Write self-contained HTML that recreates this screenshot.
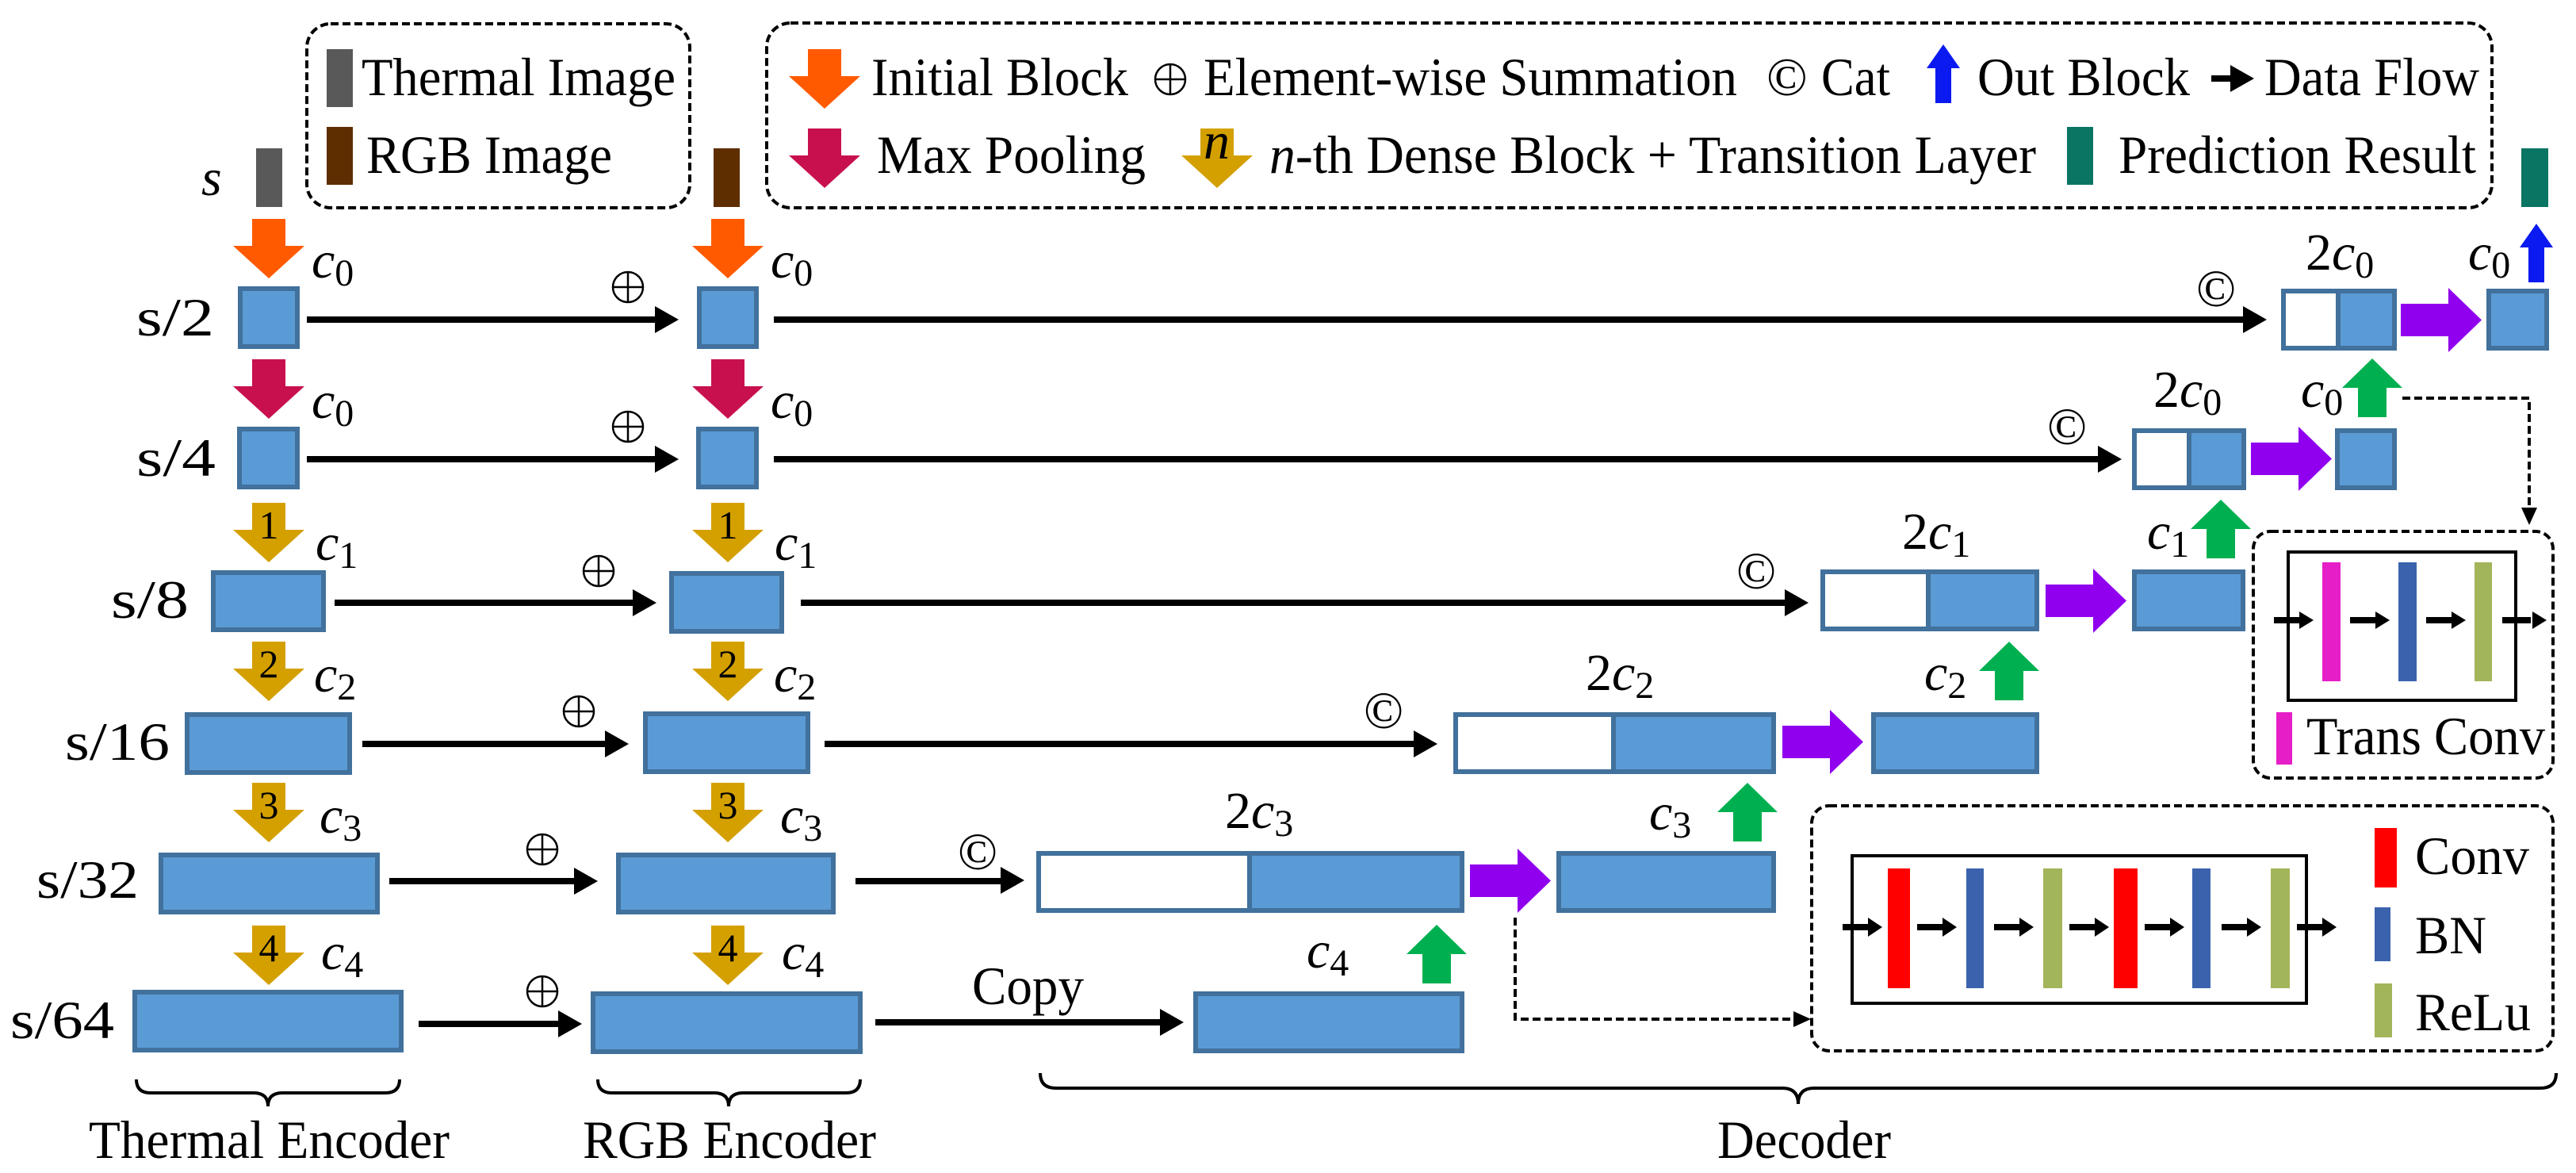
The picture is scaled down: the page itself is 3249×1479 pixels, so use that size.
<!DOCTYPE html>
<html><head><meta charset="utf-8"><style>
html,body{margin:0;padding:0;background:#fff}
svg{display:block}
text{font-family:"Liberation Serif",serif;fill:#000}
.t{font-size:68px}
.m{font-size:66px;font-style:italic}
.sb{font-style:normal;font-size:48px}
.s{font-size:68px}
.bx{fill:#5b9bd5;stroke:#41719c;stroke-width:6}
.wb{fill:#fff;stroke:#41719c;stroke-width:6}
.ln{stroke:#000;stroke-width:8;fill:none}
.dsh{stroke:#000;stroke-width:4;fill:none;stroke-dasharray:10 5}
</style></head><body>
<svg width="3249" height="1479" viewBox="0 0 3249 1479" xmlns="http://www.w3.org/2000/svg">
<defs>
<path id="da" d="M-21,0 H21 V34 H45 L0,75 L-45,34 H-21Z"/>
<path id="ua" d="M-18,74 H18 V37 H38 L0,0 L-38,37 H-18Z"/>
<path id="ba" d="M-10,74 H10 V30 H21 L0,0 L-21,30 H-10Z"/>
<path id="pa" d="M0,20 H60 V0 L102,40.5 L60,81 V61 H0Z"/>
<path id="ah" d="M0,0 L-30,-17 L-30,17Z"/>
<g id="op"><circle cx="0" cy="0" r="19" fill="none" stroke="#000" stroke-width="2.5"/><path d="M-19,0H19M0,-19V19" stroke="#000" stroke-width="2.5"/></g>
</defs>

<rect x="387" y="30" width="483" height="232" rx="30" class="dsh"/>
<rect x="412" y="62" width="33" height="73" fill="#595959"/>
<text class="t" x="456" y="120" textLength="396" lengthAdjust="spacingAndGlyphs">Thermal Image</text>
<rect x="412" y="160" width="33" height="73" fill="#5e2e00"/>
<text class="t" x="462" y="218" textLength="310" lengthAdjust="spacingAndGlyphs">RGB Image</text>

<rect x="967" y="29" width="2176" height="233" rx="30" class="dsh"/>
<use href="#da" x="1040" y="62" fill="#ff5a00"/>
<text class="t" x="1099" y="120" textLength="324" lengthAdjust="spacingAndGlyphs">Initial Block</text>
<use href="#op" x="1476" y="100"/>
<text class="t" x="1518" y="120" textLength="673" lengthAdjust="spacingAndGlyphs">Element-wise Summation</text>
<text class="t" x="2228" y="120">©</text>
<text class="t" x="2297" y="120" textLength="87" lengthAdjust="spacingAndGlyphs">Cat</text>
<use href="#ba" x="2451" y="56" fill="#0a1af0"/>
<text class="t" x="2494" y="120" textLength="268" lengthAdjust="spacingAndGlyphs">Out Block</text>
<line x1="2789" y1="99" x2="2820" y2="99" class="ln"/><use href="#ah" x="2843" y="99"/>
<text class="t" x="2856" y="120" textLength="271" lengthAdjust="spacingAndGlyphs">Data Flow</text>

<use href="#da" x="1040" y="162" fill="#c8104f"/>
<text class="t" x="1106" y="218" textLength="339" lengthAdjust="spacingAndGlyphs">Max Pooling</text>
<use href="#da" x="1535" y="162" fill="#d4a000"/>
<text class="m" x="1518" y="200">n</text>
<text class="t" x="1601" y="218" textLength="967" lengthAdjust="spacingAndGlyphs"><tspan font-style="italic">n</tspan>-th Dense Block + Transition Layer</text>
<rect x="2607" y="160" width="33" height="73" fill="#0b7563"/>
<text class="t" x="2672" y="218" textLength="451" lengthAdjust="spacingAndGlyphs">Prediction Result</text>

<text class="m" x="254" y="246" font-size="72">s</text>
<rect x="323" y="187" width="33" height="74" fill="#595959"/>
<rect x="900" y="187" width="33" height="74" fill="#5e2e00"/>
<rect x="3180" y="187" width="34" height="74" fill="#0b7563"/>

<text class="s" x="172" y="423" textLength="98" lengthAdjust="spacingAndGlyphs">s/2</text>
<text class="s" x="172" y="600" textLength="100" lengthAdjust="spacingAndGlyphs">s/4</text>
<text class="s" x="140" y="779" textLength="98" lengthAdjust="spacingAndGlyphs">s/8</text>
<text class="s" x="82" y="958" textLength="132" lengthAdjust="spacingAndGlyphs">s/16</text>
<text class="s" x="46" y="1132" textLength="129" lengthAdjust="spacingAndGlyphs">s/32</text>
<text class="s" x="13" y="1309" textLength="131" lengthAdjust="spacingAndGlyphs">s/64</text>

<g>
<use href="#da" x="339" y="276" fill="#ff5a00"/><use href="#da" x="918" y="276" fill="#ff5a00"/>
<use href="#da" x="339" y="453" fill="#c8104f"/><use href="#da" x="918" y="453" fill="#c8104f"/>
<use href="#da" x="339" y="634" fill="#d4a000"/><use href="#da" x="918" y="634" fill="#d4a000"/>
<use href="#da" x="339" y="809" fill="#d4a000"/><use href="#da" x="918" y="809" fill="#d4a000"/>
<use href="#da" x="339" y="987" fill="#d4a000"/><use href="#da" x="918" y="987" fill="#d4a000"/>
<use href="#da" x="339" y="1167" fill="#d4a000"/><use href="#da" x="918" y="1167" fill="#d4a000"/>
</g>
<g text-anchor="middle">
<text x="339" y="679" font-size="50">1</text><text x="918" y="679" font-size="50">1</text>
<text x="339" y="854" font-size="50">2</text><text x="918" y="854" font-size="50">2</text>
<text x="339" y="1032" font-size="50">3</text><text x="918" y="1032" font-size="50">3</text>
<text x="339" y="1212" font-size="50">4</text><text x="918" y="1212" font-size="50">4</text>
</g>
<text class="m" x="393" y="350">c<tspan class="sb" dy="10">0</tspan></text>
<text class="m" x="972" y="350">c<tspan class="sb" dy="10">0</tspan></text>
<text class="m" x="393" y="527">c<tspan class="sb" dy="10">0</tspan></text>
<text class="m" x="972" y="527">c<tspan class="sb" dy="10">0</tspan></text>
<text class="m" x="398" y="706">c<tspan class="sb" dy="10">1</tspan></text>
<text class="m" x="977" y="706">c<tspan class="sb" dy="10">1</tspan></text>
<text class="m" x="396" y="872">c<tspan class="sb" dy="10">2</tspan></text>
<text class="m" x="976" y="872">c<tspan class="sb" dy="10">2</tspan></text>
<text class="m" x="403" y="1050">c<tspan class="sb" dy="10">3</tspan></text>
<text class="m" x="984" y="1050">c<tspan class="sb" dy="10">3</tspan></text>
<text class="m" x="405" y="1222">c<tspan class="sb" dy="10">4</tspan></text>
<text class="m" x="986" y="1222">c<tspan class="sb" dy="10">4</tspan></text>

<rect class="bx" x="303" y="364" width="72" height="73"/><rect class="bx" x="882" y="364" width="72" height="73"/>
<rect class="bx" x="302" y="541" width="73" height="73"/><rect class="bx" x="881" y="541" width="73" height="73"/>
<rect class="bx" x="269" y="722" width="139" height="72"/><rect class="bx" x="847" y="723" width="139" height="73"/>
<rect class="bx" x="236" y="901" width="205" height="73"/><rect class="bx" x="814" y="900" width="205" height="73"/>
<rect class="bx" x="203" y="1078" width="273" height="72"/><rect class="bx" x="780" y="1078" width="271" height="72"/>
<rect class="bx" x="170" y="1251" width="336" height="73"/><rect class="bx" x="748" y="1253" width="337" height="73"/>

<g class="ln">
<line x1="387" y1="403" x2="830" y2="403"/><line x1="387" y1="579" x2="830" y2="579"/>
<line x1="422" y1="760" x2="802" y2="760"/><line x1="457" y1="938" x2="767" y2="938"/>
<line x1="491" y1="1111" x2="728" y2="1111"/><line x1="528" y1="1291" x2="708" y2="1291"/>
<line x1="976" y1="403" x2="2833" y2="403"/><line x1="976" y1="579" x2="2650" y2="579"/>
<line x1="1010" y1="760" x2="2255" y2="760"/><line x1="1040" y1="938" x2="1787" y2="938"/>
<line x1="1079" y1="1111" x2="1266" y2="1111"/><line x1="1104" y1="1289" x2="1467" y2="1289"/>
</g>
<use href="#ah" x="856" y="403"/><use href="#ah" x="856" y="579"/><use href="#ah" x="828" y="760"/>
<use href="#ah" x="793" y="938"/><use href="#ah" x="754" y="1111"/><use href="#ah" x="734" y="1291"/>
<use href="#ah" x="2859" y="403"/><use href="#ah" x="2676" y="579"/><use href="#ah" x="2281" y="760"/>
<use href="#ah" x="1813" y="938"/><use href="#ah" x="1292" y="1110"/><use href="#ah" x="1493" y="1289"/>
<use href="#op" x="792" y="362"/><use href="#op" x="792" y="538"/><use href="#op" x="755" y="720"/>
<use href="#op" x="730" y="897"/><use href="#op" x="684" y="1071"/><use href="#op" x="684" y="1250"/>
<text class="t" x="1226" y="1266" textLength="141" lengthAdjust="spacingAndGlyphs">Copy</text>

<text font-size="66" x="2770" y="386">©</text>
<text font-size="66" x="2582" y="560">©</text>
<text font-size="66" x="2190" y="742">©</text>
<text font-size="66" x="1720" y="918">©</text>
<text font-size="66" x="1208" y="1096">©</text>

<rect class="wb" x="2880" y="367" width="69" height="72"/><rect class="bx" x="2949" y="367" width="71" height="72"/>
<rect class="wb" x="2692" y="543" width="69" height="72"/><rect class="bx" x="2761" y="543" width="69" height="72"/>
<rect class="wb" x="2299" y="721" width="133" height="72"/><rect class="bx" x="2432" y="721" width="137" height="72"/>
<rect class="wb" x="1836" y="901" width="199" height="72"/><rect class="bx" x="2035" y="901" width="202" height="72"/>
<rect class="wb" x="1310" y="1076" width="266" height="72"/><rect class="bx" x="1576" y="1076" width="268" height="72"/>

<g fill="#9000ee">
<use href="#pa" x="3028" y="363"/><use href="#pa" x="2839" y="538"/><use href="#pa" x="2580" y="717"/>
<use href="#pa" x="2248" y="895"/><use href="#pa" x="1854" y="1070"/>
</g>
<rect class="bx" x="3139" y="367" width="73" height="72"/>
<rect class="bx" x="2948" y="543" width="72" height="72"/>
<rect class="bx" x="2692" y="721" width="137" height="72"/>
<rect class="bx" x="2363" y="901" width="206" height="72"/>
<rect class="bx" x="1966" y="1076" width="271" height="72"/>
<rect class="bx" x="1508" y="1253" width="336" height="72"/>

<g fill="#00b050">
<use href="#ua" x="2992" y="452"/><use href="#ua" x="2801" y="630"/><use href="#ua" x="2534" y="809"/>
<use href="#ua" x="2204" y="987"/><use href="#ua" x="1812" y="1166"/>
</g>
<use href="#ba" x="3199" y="282" fill="#0a1af0"/>

<text class="m" x="2908" y="340"><tspan font-style="normal">2</tspan>c<tspan class="sb" dy="10">0</tspan></text>
<text class="m" x="3113" y="340">c<tspan class="sb" dy="10">0</tspan></text>
<text class="m" x="2716" y="513"><tspan font-style="normal">2</tspan>c<tspan class="sb" dy="10">0</tspan></text>
<text class="m" x="2902" y="513">c<tspan class="sb" dy="10">0</tspan></text>
<text class="m" x="2399" y="692"><tspan font-style="normal">2</tspan>c<tspan class="sb" dy="10">1</tspan></text>
<text class="m" x="2708" y="692">c<tspan class="sb" dy="10">1</tspan></text>
<text class="m" x="2000" y="870"><tspan font-style="normal">2</tspan>c<tspan class="sb" dy="10">2</tspan></text>
<text class="m" x="2427" y="870">c<tspan class="sb" dy="10">2</tspan></text>
<text class="m" x="1545" y="1044"><tspan font-style="normal">2</tspan>c<tspan class="sb" dy="10">3</tspan></text>
<text class="m" x="2080" y="1046">c<tspan class="sb" dy="10">3</tspan></text>
<text class="m" x="1648" y="1220">c<tspan class="sb" dy="10">4</tspan></text>

<path class="dsh" d="M3030,502 H3190 V640"/>
<path d="M3190,662 L3180,640 L3200,640Z"/>
<path class="dsh" d="M1911,1157 V1285 H2262"/>
<path d="M2284,1285 L2262,1275 L2262,1295Z"/>

<rect x="2842" y="670" width="378" height="311" rx="22" class="dsh"/>
<rect x="2886" y="696" width="287" height="187" fill="none" stroke="#000" stroke-width="4"/>
<rect x="2929" y="709" width="23" height="150" fill="#e61ec8"/>
<rect x="3025" y="709" width="23" height="150" fill="#3b63ad"/>
<rect x="3121" y="709" width="22" height="150" fill="#a3b55a"/>
<g class="ln" stroke-width="6">
<line x1="2868" y1="782" x2="2900" y2="782"/><line x1="2964" y1="782" x2="2996" y2="782"/>
<line x1="3060" y1="782" x2="3092" y2="782"/><line x1="3156" y1="782" x2="3192" y2="782"/>
</g>
<path d="M2918,782 l-18,-11 v22z M3014,782 l-18,-11 v22z M3110,782 l-18,-11 v22z M3212,782 l-18,-11 v22z"/>
<rect x="2871" y="898" width="20" height="66" fill="#e61ec8"/>
<text class="t" x="2909" y="951" textLength="301" lengthAdjust="spacingAndGlyphs">Trans Conv</text>

<rect x="2285" y="1016" width="935" height="309" rx="22" class="dsh"/>
<rect x="2336" y="1079" width="573" height="186" fill="none" stroke="#000" stroke-width="4"/>
<rect x="2381" y="1095" width="28" height="151" fill="#ff0000"/>
<rect x="2480" y="1095" width="22" height="151" fill="#3b63ad"/>
<rect x="2577" y="1095" width="24" height="151" fill="#a3b55a"/>
<rect x="2666" y="1095" width="30" height="151" fill="#ff0000"/>
<rect x="2765" y="1095" width="23" height="151" fill="#3b63ad"/>
<rect x="2864" y="1095" width="24" height="151" fill="#a3b55a"/>
<g class="ln" stroke-width="6">
<line x1="2324" y1="1169" x2="2356" y2="1169"/><line x1="2418" y1="1169" x2="2450" y2="1169"/>
<line x1="2515" y1="1169" x2="2547" y2="1169"/><line x1="2610" y1="1169" x2="2642" y2="1169"/>
<line x1="2705" y1="1169" x2="2737" y2="1169"/><line x1="2802" y1="1169" x2="2834" y2="1169"/>
<line x1="2897" y1="1169" x2="2929" y2="1169"/>
</g>
<path d="M2374,1169 l-18,-12 v24z M2468,1169 l-18,-12 v24z M2565,1169 l-18,-12 v24z M2660,1169 l-18,-12 v24z M2755,1169 l-18,-12 v24z M2852,1169 l-18,-12 v24z M2947,1169 l-18,-12 v24z"/>
<rect x="2995" y="1044" width="28" height="75" fill="#ff0000"/>
<text class="t" x="3046" y="1102" textLength="144" lengthAdjust="spacingAndGlyphs">Conv</text>
<rect x="2995" y="1144" width="20" height="68" fill="#3b63ad"/>
<text class="t" x="3046" y="1202" textLength="90" lengthAdjust="spacingAndGlyphs">BN</text>
<rect x="2995" y="1240" width="22" height="68" fill="#a3b55a"/>
<text class="t" x="3046" y="1299" textLength="146" lengthAdjust="spacingAndGlyphs">ReLu</text>

<g fill="none" stroke="#000" stroke-width="4">
<path d="M172,1361 Q172,1378 190,1378 H320 Q338,1378 338,1395 Q338,1378 356,1378 H486 Q504,1378 504,1361"/>
<path d="M754,1361 Q754,1378 772,1378 H901 Q919,1378 919,1395 Q919,1378 937,1378 H1067 Q1085,1378 1085,1361"/>
<path d="M1312,1353 Q1312,1372 1332,1372 H2248 Q2268,1372 2268,1392 Q2268,1372 2288,1372 H3204 Q3224,1372 3224,1353"/>
</g>
<text class="t" x="112" y="1460" textLength="455" lengthAdjust="spacingAndGlyphs">Thermal Encoder</text>
<text class="t" x="735" y="1460" textLength="370" lengthAdjust="spacingAndGlyphs">RGB Encoder</text>
<text class="t" x="2166" y="1460" textLength="219" lengthAdjust="spacingAndGlyphs">Decoder</text>
</svg>
</body></html>
